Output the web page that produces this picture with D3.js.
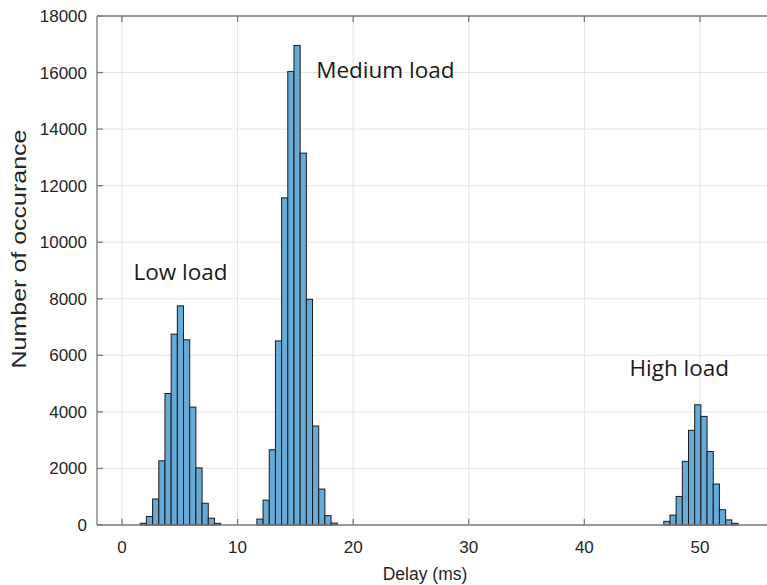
<!DOCTYPE html>
<html>
<head>
<meta charset="utf-8">
<script src="https://cdn.jsdelivr.net/npm/d3@7"></script>
<style>
  html, body { margin: 0; padding: 0; background: #fff; }
  svg { display: block; }
</style>
</head>
<body>
<svg id="chart" width="767" height="585"></svg>
<script>
// ---- data ----
const binWidth = 0.535;                // ms
const lowStart = 1.58;
const lowCounts = [60, 300, 920, 2270, 4650, 6750, 7750, 6550, 4170, 2020, 770, 240, 60];
const medStart = 11.67;
const medCounts = [210, 880, 2660, 6510, 11570, 16040, 16960, 13150, 7980, 3500, 1270, 330, 70];
const highStart = 46.87;
const highCounts = [130, 350, 1010, 2250, 3350, 4250, 3840, 2600, 1450, 540, 180, 60];

const xTicks = [0, 10, 20, 30, 40, 50];
const yTicks = [0, 2000, 4000, 6000, 8000, 10000, 12000, 14000, 16000, 18000];

const annotations = [
  { text: "Low load", x: 1.0, y: 8650 },
  { text: "Medium load", x: 16.8, y: 15800 },
  { text: "High load", x: 43.9, y: 5280 }
];

const xLabel = "Delay (ms)";
const yLabel = "Number of occurance";

(function () {
// ---- layout ----
const pL = 97, pR = 767, pT = 16, pB = 525;
const svg = d3.select("#chart");

const x = d3.scaleLinear().domain([-2.16, 55.8]).range([pL, pR]);
const y = d3.scaleLinear().domain([0, 18000]).range([pB, pT]);

const axisColor = "#7a7a7a";
const textColor = "#262626";

// grid
const grid = svg.append("g");
grid.selectAll("line.gx").data(xTicks).join("line")
  .attr("x1", d => x(d)).attr("x2", d => x(d))
  .attr("y1", pT).attr("y2", pB)
  .attr("stroke", "#e3e3e3").attr("stroke-width", 1);
grid.selectAll("line.gy").data(yTicks).join("line")
  .attr("x1", pL).attr("x2", pR)
  .attr("y1", d => y(d)).attr("y2", d => y(d))
  .attr("stroke", "#e3e3e3").attr("stroke-width", 1);

// bars
function series(start, counts) {
  return counts.map((c, i) => ({ x0: start + i * binWidth, x1: start + (i + 1) * binWidth, c }));
}
const bins = [].concat(series(lowStart, lowCounts), series(medStart, medCounts), series(highStart, highCounts));

svg.append("g").selectAll("rect").data(bins).join("rect")
  .attr("x", d => x(d.x0))
  .attr("width", d => x(d.x1) - x(d.x0))
  .attr("y", d => y(d.c))
  .attr("height", d => y(0) - y(d.c))
  .attr("fill", "#66aad7")
  .attr("stroke", "#1a1a1a")
  .attr("stroke-width", 1);

// axes box lines
svg.append("line").attr("x1", pL).attr("x2", pR).attr("y1", pB).attr("y2", pB)
  .attr("stroke", axisColor).attr("stroke-width", 1.3);
svg.append("line").attr("x1", pL).attr("x2", pR).attr("y1", pT).attr("y2", pT)
  .attr("stroke", axisColor).attr("stroke-width", 1.3);
svg.append("line").attr("x1", pL).attr("x2", pL).attr("y1", pT).attr("y2", pB)
  .attr("stroke", axisColor).attr("stroke-width", 1.3);

// inward ticks
const tl = 6;
const ticks = svg.append("g").attr("stroke", axisColor).attr("stroke-width", 1.3);
ticks.selectAll("line.bt").data(xTicks).join("line")
  .attr("x1", d => x(d)).attr("x2", d => x(d)).attr("y1", pB).attr("y2", pB - tl);
ticks.selectAll("line.tt").data(xTicks).join("line")
  .attr("x1", d => x(d)).attr("x2", d => x(d)).attr("y1", pT).attr("y2", pT + tl);
ticks.selectAll("line.lt").data(yTicks).join("line")
  .attr("x1", pL).attr("x2", pL + tl).attr("y1", d => y(d)).attr("y2", d => y(d));

// tick labels
const font = "'Liberation Sans', Arial, sans-serif";
svg.append("g").selectAll("text").data(xTicks).join("text")
  .attr("x", d => x(d)).attr("y", pB + 28)
  .attr("text-anchor", "middle")
  .attr("font-family", font).attr("font-size", 17).attr("fill", textColor)
  .text(d => d);
svg.append("g").selectAll("text").data(yTicks).join("text")
  .attr("x", pL - 10).attr("y", d => y(d))
  .attr("dy", "0.35em")
  .attr("text-anchor", "end")
  .attr("font-family", font).attr("font-size", 17).attr("fill", textColor)
  .text(d => d);

// axis labels
svg.append("text")
  .attr("x", (pL + 753) / 2).attr("y", 580)
  .attr("text-anchor", "middle")
  .attr("font-family", font).attr("font-size", 17.5).attr("fill", textColor)
  .text(xLabel);
svg.append("text")
  .attr("transform", `translate(26, 249) rotate(-90) scale(1.25, 1)`)
  .attr("text-anchor", "middle")
  .attr("font-family", font).attr("font-size", 20).attr("fill", textColor)
  .text(yLabel);

// annotations
svg.append("g").selectAll("text").data(annotations).join("text")
  .attr("x", d => x(d.x)).attr("y", d => y(d.y))
  .attr("font-family", "'Open Sans', 'Noto Sans', sans-serif")
  .attr("font-size", 22.5).attr("fill", "#1a1a1a")
  .text(d => d.text);
})();
</script>
</body>
</html>
